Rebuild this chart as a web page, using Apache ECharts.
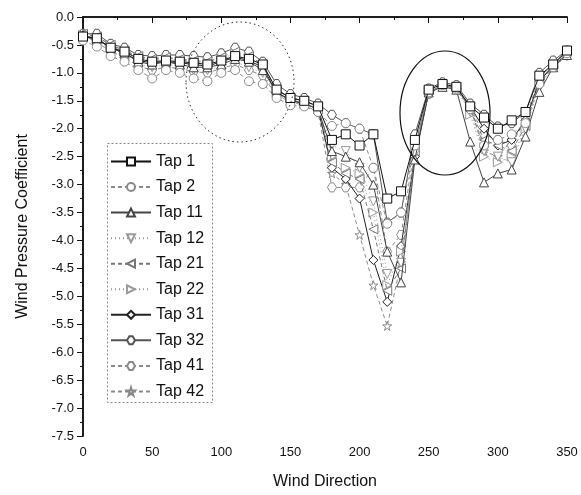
<!DOCTYPE html>
<html>
<head>
<meta charset="utf-8">
<script src="https://cdn.jsdelivr.net/npm/echarts@6/dist/echarts.min.js"></script>
<style>html,body{margin:0;padding:0;background:#fff}#c{width:581px;height:495px}</style>
</head>
<body>
<div id="c"></div>
<script>
const directions = [0,10,20,30,40,50,60,70,80,90,100,110,120,130,140,150,160,170,180,190,200,210,220,230,240,250,260,270,280,290,300,310,320,330,340,350];
const tapNames = ['Tap 1','Tap 2','Tap 11','Tap 12','Tap 21','Tap 22','Tap 31','Tap 32','Tap 41','Tap 42'];
const tap1  = [-0.35,-0.38,-0.55,-0.62,-0.75,-0.80,-0.78,-0.80,-0.82,-0.85,-0.78,-0.70,-0.75,-0.85,-1.30,-1.45,-1.50,-1.60,-2.20,-2.10,-2.30,-2.10,-3.25,-3.12,-2.20,-1.30,-1.20,-1.25,-1.60,-1.80,-2.00,-1.85,-1.70,-1.05,-0.85,-0.60];
const tap2  = [-0.42,-0.53,-0.70,-0.80,-0.95,-1.10,-0.95,-1.00,-1.10,-1.15,-1.00,-0.95,-1.15,-1.20,-1.45,-1.58,-1.60,-1.70,-1.95,-1.90,-2.00,-2.70,-3.70,-3.50,-2.30,-1.35,-1.22,-1.28,-1.65,-2.30,-2.20,-2.10,-1.90,-1.20,-0.90,-0.65];
const tap11 = [-0.32,-0.40,-0.55,-0.65,-0.80,-0.85,-0.80,-0.85,-0.90,-0.90,-0.85,-0.75,-0.80,-0.95,-1.35,-1.50,-1.55,-1.65,-2.40,-2.50,-2.60,-3.00,-4.20,-4.75,-2.55,-1.35,-1.25,-1.30,-2.23,-2.96,-2.80,-2.73,-2.14,-1.34,-0.90,-0.68];
const tap12 = [-0.35,-0.42,-0.60,-0.70,-0.85,-0.90,-0.85,-0.88,-0.95,-0.95,-0.88,-0.80,-0.90,-1.00,-1.40,-1.50,-1.55,-1.65,-2.30,-2.40,-2.70,-3.30,-4.60,-4.40,-2.45,-1.35,-1.22,-1.27,-1.70,-2.40,-2.50,-2.60,-2.00,-1.25,-0.90,-0.70];
const tap21 = [-0.30,-0.35,-0.50,-0.60,-0.70,-0.75,-0.72,-0.75,-0.78,-0.80,-0.72,-0.62,-0.70,-0.85,-1.30,-1.45,-1.50,-1.60,-2.60,-2.80,-2.90,-3.80,-4.90,-4.50,-2.40,-1.30,-1.20,-1.25,-1.65,-2.20,-2.30,-2.40,-1.95,-1.15,-0.85,-0.62];
const tap22 = [-0.32,-0.37,-0.52,-0.62,-0.72,-0.78,-0.75,-0.78,-0.80,-0.82,-0.75,-0.65,-0.72,-0.88,-1.32,-1.45,-1.52,-1.62,-2.50,-2.70,-2.80,-3.50,-4.80,-4.20,-2.35,-1.32,-1.20,-1.25,-1.75,-2.50,-2.60,-2.50,-2.00,-1.20,-0.88,-0.65];
const tap31 = [-0.35,-0.40,-0.55,-0.65,-0.78,-0.82,-0.80,-0.82,-0.85,-0.88,-0.80,-0.72,-0.78,-0.90,-1.35,-1.48,-1.55,-1.65,-2.70,-2.90,-3.25,-4.35,-5.10,-4.10,-2.50,-1.35,-1.22,-1.28,-1.60,-2.00,-2.30,-2.20,-1.85,-1.15,-0.88,-0.65];
const tap32 = [-0.30,-0.30,-0.48,-0.55,-0.68,-0.70,-0.68,-0.68,-0.70,-0.72,-0.65,-0.55,-0.62,-0.80,-1.20,-1.38,-1.45,-1.55,-1.75,-1.90,-2.00,-2.10,-3.68,-3.50,-2.10,-1.28,-1.17,-1.22,-1.55,-1.75,-1.96,-1.90,-1.70,-1.00,-0.78,-0.60];
const tap41 = [-0.33,-0.45,-0.62,-0.72,-0.88,-0.95,-0.90,-0.92,-0.98,-1.00,-0.92,-0.85,-0.95,-1.05,-1.40,-1.52,-1.58,-1.70,-3.05,-3.05,-3.05,-2.70,-4.20,-3.90,-2.30,-1.38,-1.24,-1.28,-1.62,-2.10,-2.20,-2.30,-1.80,-1.10,-0.82,-0.63];
const tap42 = [-0.30,-0.35,-0.50,-0.60,-0.72,-0.76,-0.74,-0.76,-0.80,-0.82,-0.76,-0.68,-0.72,-0.88,-1.30,-1.45,-1.50,-1.60,-2.80,-3.00,-3.90,-4.80,-5.53,-4.40,-2.50,-1.35,-1.20,-1.25,-1.60,-2.40,-2.50,-2.20,-1.90,-1.15,-0.85,-0.62];
const xTicks = [0,50,100,150,200,250,300,350];
const yTicks = [0,-0.5,-1,-1.5,-2,-2.5,-3,-3.5,-4,-4.5,-5,-5.5,-6,-6.5,-7,-7.5];

const allTaps = [tap1,tap2,tap11,tap12,tap21,tap22,tap31,tap32,tap41,tap42];
const styles = [
  {c:'#111', t:'solid', s:'rect'},
  {c:'#8a8a8a', t:[4,3], s:'circle'},
  {c:'#444', t:'solid', s:'triangle'},
  {c:'#9a9a9a', t:[1,3], s:'path://M0,0 L10,0 L5,9 Z'},
  {c:'#777', t:[4,3], s:'path://M9,0 L9,10 L0,5 Z'},
  {c:'#9a9a9a', t:[1,3], s:'path://M0,0 L0,10 L9,5 Z'},
  {c:'#222', t:'solid', s:'diamond'},
  {c:'#555', t:'solid', s:'path://M3,0 L7,0 L10,5 L7,10 L3,10 L0,5 Z'},
  {c:'#8a8a8a', t:[4,3], s:'path://M3,0 L7,0 L10,5 L7,10 L3,10 L0,5 Z'},
  {c:'#8a8a8a', t:[4,3], s:'path://M50,0 L61,35 L98,35 L68,57 L79,91 L50,70 L21,91 L32,57 L2,35 L39,35 Z'}
];

const series = tapNames.map((name, k) => ({
  name: name,
  type: 'line',
  xAxisIndex: 0, yAxisIndex: 0,
  data: directions.map((d, i) => [d, allTaps[k][i]]),
  symbol: styles[k].s,
  symbolSize: 9,
  showAllSymbol: true,
  lineStyle: {color: styles[k].c, width: 1, type: styles[k].t},
  itemStyle: {color: '#fff', borderColor: styles[k].c, borderWidth: 1},
  emphasis: {disabled: true},
  animation: false,
  z: 10 - k
}));

const font = 'Liberation Sans, Arial, sans-serif';
const chart = echarts.init(document.getElementById('c'), null, {renderer: 'canvas'});
chart.setOption({
  animation: false,
  backgroundColor: '#fff',
  grid: {left: 83, right: 14, top: 17, bottom: 58, containLabel: false},
  legend: {
    orient: 'vertical', left: 107, top: 143,
    padding: [10.5, 9, 7, 3],
    itemWidth: 40, itemHeight: 10, itemGap: 9.55,
    textStyle: {fontFamily: font, fontSize: 16, color: '#111', padding: [0,0,0,0]},
    data: tapNames
  },
  xAxis: [
    {type: 'value', min: 0, max: 350, interval: 50, position: 'bottom',
     name: 'Wind Direction', nameLocation: 'middle', nameGap: 38,
     nameTextStyle: {fontFamily: font, fontSize: 16, color: '#111'},
     axisLine: {lineStyle: {color: '#111', width: 1.5}},
     axisTick: {inside: false, length: 6, lineStyle: {color: '#111'}},
     minorTick: {show: true, splitNumber: 2, length: 3, lineStyle: {color: '#111'}},
     axisLabel: {fontFamily: font, fontSize: 13, color: '#111', margin: 10,
       formatter: v => xTicks.includes(v) ? String(v) : ''},
     splitLine: {show: false}},
    {type: 'value', min: 0, max: 350, interval: 50, position: 'top',
     axisLine: {lineStyle: {color: '#111', width: 1.5}},
     axisTick: {inside: true, length: 6, lineStyle: {color: '#111'}},
     minorTick: {show: true, splitNumber: 2, length: 3, lineStyle: {color: '#111'}},
     axisLabel: {show: false}, splitLine: {show: false}}
  ],
  yAxis: [
    {type: 'value', min: -7.5, max: 0, interval: 0.5, position: 'left',
     name: 'Wind Pressure Coefficient', nameLocation: 'middle', nameGap: 52, nameRotate: 90,
     nameTextStyle: {fontFamily: font, fontSize: 16, color: '#111'},
     axisLine: {lineStyle: {color: '#111', width: 1.5}},
     axisTick: {inside: false, length: 6, lineStyle: {color: '#111'}},
     minorTick: {show: true, splitNumber: 2, length: 3, lineStyle: {color: '#111'}},
     axisLabel: {fontFamily: font, fontSize: 13, color: '#111', margin: 9,
       formatter: v => (Math.abs(v) < 1e-9 ? 0 : v).toFixed(1)},
     splitLine: {show: false}},
    {type: 'value', min: -7.5, max: 0, interval: 0.5, position: 'right',
     axisLine: {lineStyle: {color: '#111', width: 1.5}},
     axisTick: {inside: true, length: 6, lineStyle: {color: '#111'}},
     minorTick: {show: true, splitNumber: 2, length: 3, lineStyle: {color: '#111'}},
     axisLabel: {show: false}, splitLine: {show: false}}
  ],
  graphic: [
    {type: 'rect', z: 1, silent: true,
     shape: {x: 107.5, y: 143.5, width: 105, height: 259},
     style: {fill: 'none', stroke: '#888', lineWidth: 1, lineDash: [2, 2]}},
    {type: 'ellipse', z: 100, silent: true,
     shape: {cx: 240, cy: 82, rx: 54, ry: 60},
     style: {fill: 'none', stroke: '#333', lineWidth: 1, lineDash: [1.5, 3]}},
    {type: 'ellipse', z: 100, silent: true,
     shape: {cx: 445, cy: 113, rx: 45, ry: 62},
     style: {fill: 'none', stroke: '#111', lineWidth: 1.2}}
  ],
  series: series
});
</script>
</body>
</html>
